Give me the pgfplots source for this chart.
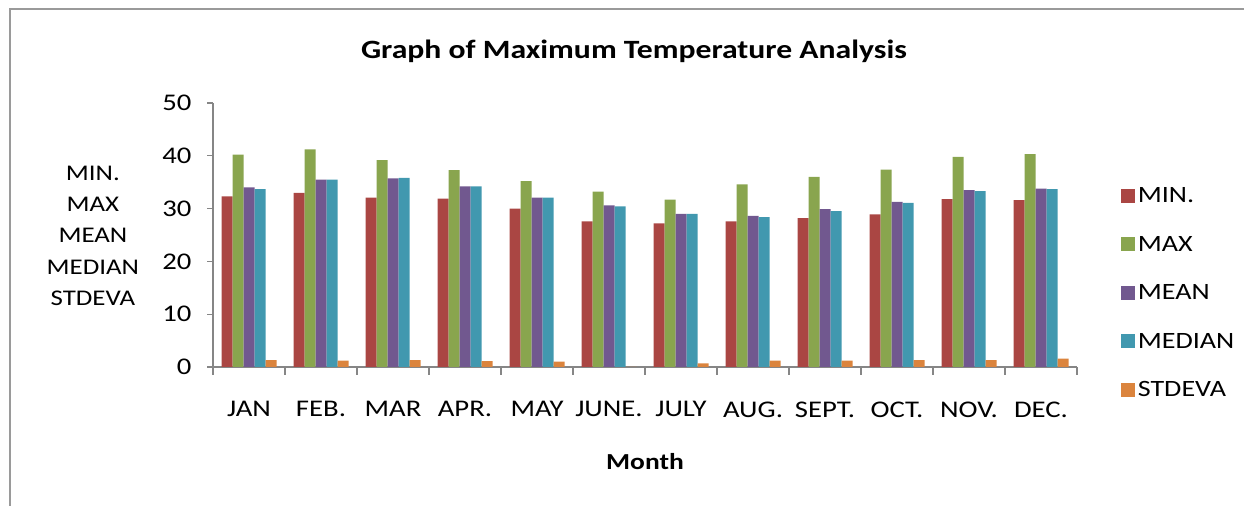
\documentclass[border=0pt]{standalone}
\usepackage{fontspec}
\setmainfont{Carlito}[FakeStretch=1.2]
\usepackage{pgfplots}
\usepackage{pgfplotstable}
\pgfplotsset{compat=1.18}
\definecolor{cmin}{HTML}{AA4643}
\definecolor{cmax}{HTML}{89A54E}
\definecolor{cmean}{HTML}{71588F}
\definecolor{cmed}{HTML}{4198AF}
\definecolor{csd}{HTML}{DB843D}
\definecolor{axgray}{HTML}{868686}
\definecolor{framegray}{HTML}{9A9A9A}
\pgfplotstableread{
x min max mean median sd
0 32.3 40.2 34.0 33.7 1.3
1 33.0 41.2 35.5 35.5 1.2
2 32.1 39.2 35.7 35.8 1.3
3 31.9 37.3 34.2 34.2 1.1
4 30.0 35.2 32.1 32.1 1.0
5 27.6 33.2 30.6 30.4 0.0
6 27.2 31.7 29.0 29.0 0.7
7 27.6 34.6 28.6 28.4 1.2
8 28.2 36.0 29.9 29.5 1.2
9 28.9 37.4 31.25 31.1 1.3
10 31.8 39.8 33.5 33.3 1.3
11 31.6 40.3 33.8 33.7 1.6
}\data
\begin{document}
\begin{tikzpicture}[x=1bp,y=1bp]
\useasboundingbox (0,0) rectangle (1244,506);
\draw[framegray, line width=2bp] (10,0) -- (10,497) -- (1244,497);
\node[font=\bfseries\fontsize{26.5}{30}\selectfont] at (634,455) {Graph of Maximum Temperature Analysis};
\begin{axis}[
  at={(213bp,139bp)}, anchor=south west, scale only axis,
  width=864bp, height=264bp,
  ymin=0, ymax=50, xmin=-0.5, xmax=11.5,
  ytick={0,10,...,50},
  xtick={0,...,11},
  xticklabels={JAN,FEB.,MAR,APR.,MAY,JUNE.,JULY,AUG.,SEPT.,OCT.,NOV.,DEC.},
  minor xtick={-0.5,0.5,...,11.5},
  major x tick style={draw=none},
  axis lines*=left,
  tick align=outside,
  major tick length=6bp, minor tick length=8bp,
  axis line style={draw=axgray, line width=1.3bp},
  every tick/.style={axgray, line width=1.3bp},
  minor tick style={axgray, line width=1.3bp},
  /pgf/number format/assume math mode=true,
  tick label style={font=\fontsize{24}{28}\selectfont},
  xticklabel style={yshift=-25bp},
  yticklabel style={xshift=-12bp},
  ybar=0pt, bar width=11bp,
  xlabel={Month},
  xlabel style={font=\bfseries\fontsize{23}{26}\selectfont, at={(axis description cs:0.5,-0.36)}, anchor=center},
  ylabel={MIN.\\MAX\\MEAN\\MEDIAN\\STDEVA},
  ylabel style={rotate=-90, align=center, font=\fontsize{22.5}{31.5}\selectfont, at={(axis description cs:-0.139,0.497)}, anchor=center},
  legend style={at={(axis description cs:1.047,0.695)}, anchor=north west, draw=none, fill=none,
    font=\fontsize{23.5}{27}\selectfont, row sep=28bp, legend cell align=left,
    nodes={inner xsep=3bp}},
  legend image code/.code={\fill[#1] (0bp,-7bp) rectangle (14bp,7bp);},
]
\addplot[fill=cmin, draw=none] table[x=x,y=min] {\data};
\addplot[fill=cmax, draw=none] table[x=x,y=max] {\data};
\addplot[fill=cmean, draw=none] table[x=x,y=mean] {\data};
\addplot[fill=cmed, draw=none] table[x=x,y=median] {\data};
\addplot[fill=csd, draw=none] table[x=x,y=sd] {\data};
\legend{MIN.,MAX,MEAN,MEDIAN,STDEVA}
\end{axis}
\end{tikzpicture}
\end{document}
